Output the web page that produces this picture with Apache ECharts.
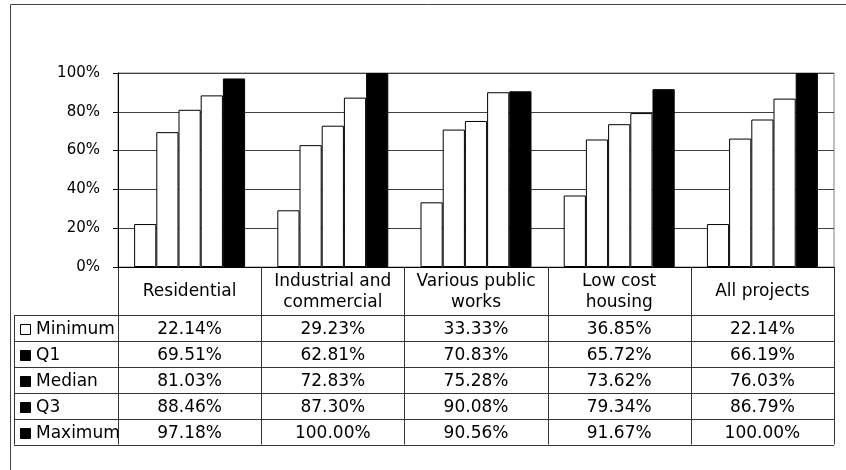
<!DOCTYPE html>
<html>
<head>
<meta charset="utf-8">
<script src="https://cdn.jsdelivr.net/npm/echarts@6/dist/echarts.min.js"></script>
<style>
  html, body { margin: 0; padding: 0; background: #fff; }
  #chart { width: 846px; height: 470px; }
</style>
</head>
<body>
<div id="chart"></div>
<script>
// Project categories (header cells of the data table; '\n' marks the wrap)
const categories = ['Residential', 'Industrial and\ncommercial', 'Various public\nworks', 'Low cost\nhousing', 'All projects'];
// Statistic names, in bar order
const seriesNames = ['Minimum', 'Q1', 'Median', 'Q3', 'Maximum'];
// Values in percent
const minimum = [22.14, 29.23, 33.33, 36.85, 22.14];
const q1      = [69.51, 62.81, 70.83, 65.72, 66.19];
const median  = [81.03, 72.83, 75.28, 73.62, 76.03];
const q3      = [88.46, 87.30, 90.08, 79.34, 86.79];
const maximum = [97.18, 100.00, 90.56, 91.67, 100.00];
// Value axis ticks
const yTicks = [0, 20, 40, 60, 80, 100];

const seriesValues = [minimum, q1, median, q3, maximum];

// Plot and table geometry
const plotLeft = 118, plotRight = 834, plotTop = 73, plotBottom = 267;
const headerBottom = 315, tableBottom = 444.5, tableLeft = 14;
const W = 846, H = 470;
const band = (plotRight - plotLeft) / categories.length;
const rowH = (tableBottom - headerBottom) / seriesNames.length;

const FONT = '"DejaVu Sans", Verdana, sans-serif';
const lineColor = '#333';

const barStyle = [
  { color: '#fff', borderColor: '#000', borderWidth: 1 },
  { color: '#fff', borderColor: '#000', borderWidth: 1 },
  { color: '#fff', borderColor: '#000', borderWidth: 1 },
  { color: '#fff', borderColor: '#000', borderWidth: 1 },
  { color: '#000', borderColor: '#000', borderWidth: 1 }
];
// Legend keys in the table's first column
const keyStyle = [
  { fill: '#fff', stroke: '#000' },
  { fill: '#000', stroke: '#000' },
  { fill: '#000', stroke: '#000' },
  { fill: '#000', stroke: '#000' },
  { fill: '#000', stroke: '#000' }
];

const graphics = [];
function hline(x1, x2, y) {
  graphics.push({ type: 'line', silent: true, shape: { x1: x1, y1: y, x2: x2, y2: y },
    style: { stroke: lineColor, lineWidth: 1 } });
}
function vline(x, y1, y2) {
  graphics.push({ type: 'line', silent: true, shape: { x1: x, y1: y1, x2: x, y2: y2 },
    style: { stroke: lineColor, lineWidth: 1 } });
}
function text(str, x, y, align) {
  graphics.push({ type: 'text', silent: true,
    style: { text: str, x: x, y: y, align: align || 'center', verticalAlign: 'middle',
      fontFamily: FONT, fontSize: 17, lineHeight: 21, fill: '#000' } });
}

// Outer chart frame
graphics.push({ type: 'rect', silent: true,
  shape: { x: 10.5, y: 4.5, width: W + 20, height: H + 20 },
  style: { fill: 'none', stroke: '#444', lineWidth: 1 } });

// Data table grid
for (let k = 0; k <= categories.length; k++) {
  vline(Math.round(plotLeft + k * band) + 0.5, plotBottom, tableBottom);
}
vline(tableLeft + 0.5, headerBottom, tableBottom);
for (let r = 0; r <= seriesNames.length; r++) {
  hline(tableLeft, plotRight, Math.round(headerBottom + r * rowH) + 0.5);
}

// Header cells
categories.forEach(function (c, i) {
  text(c, plotLeft + (i + 0.5) * band, (plotBottom + headerBottom) / 2 + 1);
});

// Rows: legend key, name, values
seriesNames.forEach(function (name, r) {
  const cy = headerBottom + (r + 0.5) * rowH + 2;
  graphics.push({ type: 'rect', silent: true,
    shape: { x: 20.5, y: Math.round(cy - 6) + 0.5, width: 10, height: 10 },
    style: { fill: keyStyle[r].fill, stroke: keyStyle[r].stroke, lineWidth: 1 } });
  text(name, 36, cy, 'left');
  seriesValues[r].forEach(function (v, i) {
    text(v.toFixed(2) + '%', plotLeft + (i + 0.5) * band, cy);
  });
});

const chart = echarts.init(document.getElementById('chart'), null, { renderer: 'canvas' });
chart.setOption({
  animation: false,
  backgroundColor: '#fff',
  grid: {
    left: plotLeft, right: W - plotRight, top: plotTop, bottom: H - plotBottom,
    show: true, borderColor: '#808080', borderWidth: 1, backgroundColor: 'transparent'
  },
  xAxis: {
    type: 'category',
    data: categories,
    axisLine: { show: true, lineStyle: { color: '#000', width: 1 } },
    axisTick: { show: false },
    axisLabel: { show: false },
    splitLine: { show: false }
  },
  yAxis: {
    type: 'value',
    min: yTicks[0],
    max: yTicks[yTicks.length - 1],
    interval: yTicks[1] - yTicks[0],
    axisLine: { show: true, lineStyle: { color: '#000', width: 1 } },
    axisTick: { show: true, length: 5, lineStyle: { color: '#000' } },
    axisLabel: { formatter: '{value}%', margin: 18, color: '#000', fontFamily: FONT, fontSize: 15 },
    splitLine: { show: true, lineStyle: { color: '#404040', width: 1 } }
  },
  series: seriesNames.map(function (name, s) {
    return {
      name: name,
      type: 'bar',
      data: seriesValues[s],
      barGap: '0%',
      barCategoryGap: '22.5%',
      itemStyle: barStyle[s],
      emphasis: { disabled: true }
    };
  }),
  graphic: { elements: graphics }
});
</script>
</body>
</html>
